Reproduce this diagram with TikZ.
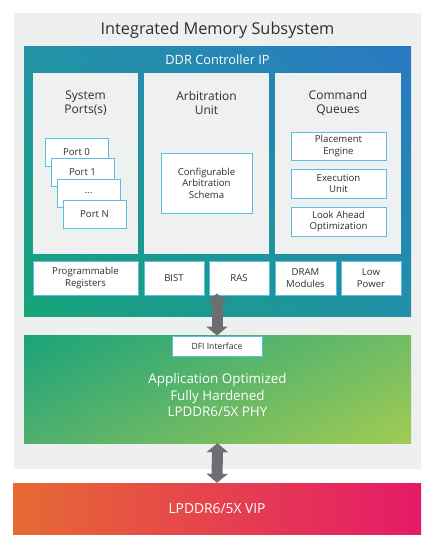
\documentclass[tikz,border=0pt]{standalone}
\usepackage{fontspec}
\setmainfont{Open Sans}
\usetikzlibrary{arrows.meta,shadings}

\definecolor{bggray}{HTML}{EEF0EF}
\definecolor{panelgray}{HTML}{EFF1F1}
\definecolor{boxblue}{HTML}{5BC0E0}
\definecolor{txtgray}{HTML}{2E2E2E}
\definecolor{busgray}{HTML}{6D6E71}
\definecolor{ddrUL}{HTML}{2294A6}
\definecolor{ddrUR}{HTML}{2A78C4}
\definecolor{ddrLL}{HTML}{16A478}
\definecolor{ddrLR}{HTML}{2190A8}
\definecolor{phyUL}{HTML}{1AA37A}
\definecolor{phyUR}{HTML}{72BC65}
\definecolor{phyLL}{HTML}{4FAF6E}
\definecolor{phyLR}{HTML}{A0CC52}
\definecolor{vipL}{HTML}{E66A33}
\definecolor{vipM}{HTML}{E41F3F}
\definecolor{vipR}{HTML}{E51A68}

\begin{document}
\begin{tikzpicture}[x=1pt,y=-1pt]
\tikzset{frame/.style 2 args = {minimum width=#1,minimum height=#2,inner sep=0pt}}
\tikzset{panel/.style 2 args = {frame={#1}{#2},fill=panelgray}}
\tikzset{unit/.style 2 args = {frame={#1}{#2},fill=white,draw=boxblue,line width=0.9pt,
    text=txtgray,align=center,font=\fontsize{9.6}{11.5}\selectfont}}
\tikzset{head/.style = {text=txtgray,align=center,font=\fontsize{12}{14}\selectfont}}
\tikzset{light/.style = {text=white,align=center,font=\fontsize{13.4}{16.5}\selectfont}}
\tikzset{bus/.style = {draw=busgray,line width=11pt,
    {Triangle[width=21pt,length=9pt]}-{Triangle[width=21pt,length=9pt]}}}
\useasboundingbox (0,0) rectangle (436,545);
% background
\node[frame={407}{456},fill=bggray] (ims) at (217.5,241) {};
\node[text=txtgray,font=\fontsize{16.3}{18}\selectfont] (imstitle) at (217.5,30) {Integrated Memory Subsystem};
% controller
\node[frame={387}{269},shading=bilinear interpolation,
    upper left=ddrUL,upper right=ddrUR,lower left=ddrLL,lower right=ddrLR] (ddr) at (217.5,181.5) {};
\node[light,font=\fontsize{12.8}{14}\selectfont] (ddrtitle) at (217.5,60) {DDR Controller IP};
\node[panel={105}{181}] (sysp) at (85.5,163.5) {};
\node[panel={125}{181}] (arbp) at (206.5,163.5) {};
\node[panel={126}{181}] (cmdp) at (338,163.5) {};
\node[head] (syst) at (85.5,103) {System\\Ports(s)};
\node[head] (arbt) at (206.5,103) {Arbitration\\Unit};
\node[head] (cmdt) at (338,103) {Command\\Queues};
% ports
\node[unit={63}{28}] (port0) at (76.5,152) {Port 0};
\node[unit={63}{28}] (port1) at (82.5,172.5) {Port 1};
\node[unit={63}{28}] (portdots) at (88.5,193.5) {...};
\node[unit={63}{28}] (portn) at (94.5,214) {Port N};
% arbitration
\node[unit={91}{60}] (schema) at (206.5,183) {Configurable\\Arbitration\\Schema};
% queues
\node[unit={95}{28}] (place) at (338.5,146) {Placement\\Engine};
\node[unit={95}{29}] (exec) at (338.5,183.5) {Execution\\Unit};
\node[unit={95}{29}] (look) at (338.5,221.5) {Look Ahead\\Optimization};
% bottom row
\node[unit={105}{34}] (prog) at (85.5,278) {Programmable\\Registers};
\node[unit={60}{34}] (bist) at (174,278) {BIST};
\node[unit={60}{34}] (ras) at (239,278) {RAS};
\node[unit={61}{34}] (dram) at (305.5,278) {DRAM\\Modules};
\node[unit={60}{34}] (lowp) at (371,278) {Low\\Power};
% phy
\node[frame={387}{108},shading=bilinear interpolation,
    upper left=phyUL,upper right=phyUR,lower left=phyLL,lower right=phyLR] (phy) at (217.5,389) {};
\node[unit={90}{20},font=\fontsize{8.6}{9}\selectfont] (dfi) at (217,346) {DFI Interface};
\node[light] (phytext) at (217.5,395) {Application Optimized\\Fully Hardened\\LPDDR6/5X PHY};
% vip
\node[frame={408}{51},left color=vipL,middle color=vipM,right color=vipR] (vip) at (217,508.5) {};
\node[light,font=\fontsize{13.8}{16}\selectfont] (viptext) at (217,508.5) {LPDDR6/5X VIP};
%buses
\draw[bus] ([yshift=2pt]dfi.north |- ras.south) -- (dfi.north);
\draw[bus] (phy.south) -- (vip.north);
\end{tikzpicture}
\end{document}
